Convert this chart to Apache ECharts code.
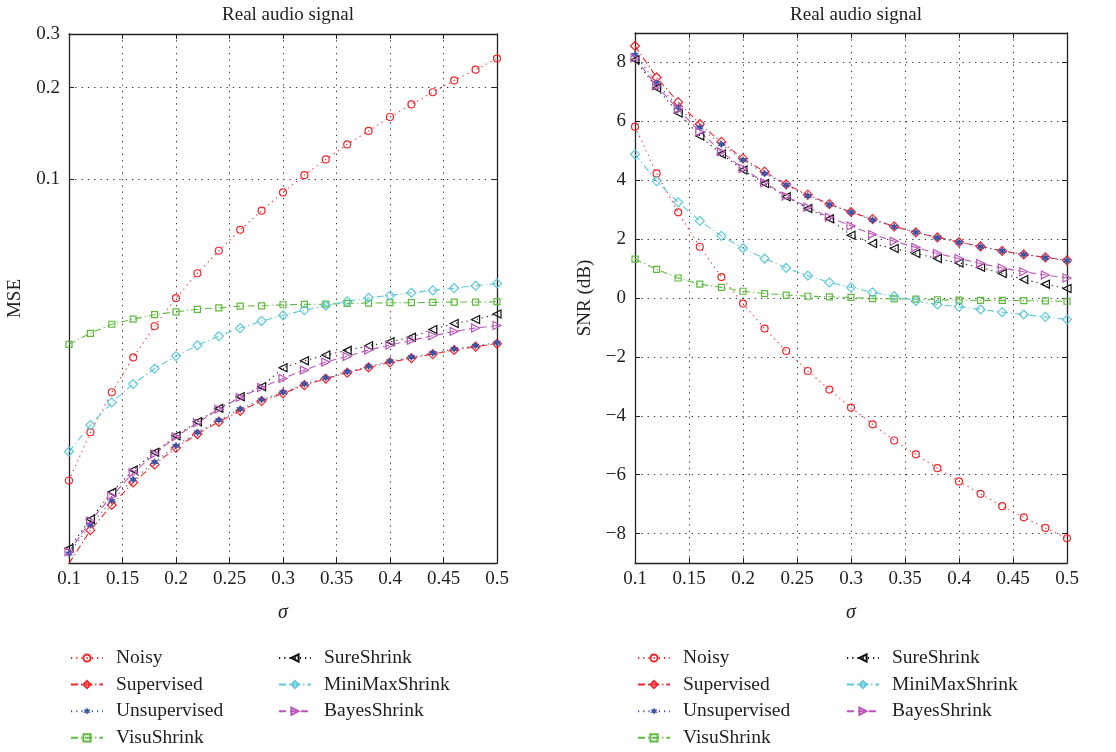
<!DOCTYPE html>
<html lang="en">
<head>
    <meta charset="UTF-8">
    <title>Real audio signal</title>
    <script src="https://cdn.jsdelivr.net/npm/echarts@6/dist/echarts.min.js"></script>
    <style>
        html, body {margin: 0; padding: 0; background: #fff;}
        #main {width: 1116px; height: 752px;}
    </style>
</head>
<body>
<div id="main"></div>
<script>
    // sigma values (x axis)
    var sigma = [0.1, 0.12, 0.14, 0.16, 0.18, 0.2, 0.22, 0.24, 0.26, 0.28, 0.3,
                 0.32, 0.34, 0.36, 0.38, 0.4, 0.42, 0.44, 0.46, 0.48, 0.5];

    // MSE (left panel, log scale)
    var mseNoisy = [0.0102, 0.0147, 0.0199, 0.0259, 0.0328, 0.0406, 0.049, 0.0581, 0.0681, 0.0787, 0.0904,
                    0.103, 0.116, 0.130, 0.144, 0.160, 0.176, 0.193, 0.211, 0.229, 0.249];
    var mseSupervised = [0.00544, 0.0070, 0.00847, 0.01005, 0.01152, 0.01306, 0.0145, 0.01591, 0.01729, 0.01862, 0.01973,
                         0.0210, 0.02205, 0.02306, 0.02402, 0.02495, 0.02577, 0.02657, 0.0274, 0.02809, 0.02873];
    var mseUnsupervised = [0.00587, 0.00728, 0.00875, 0.01028, 0.01173, 0.01327, 0.01468, 0.01611, 0.01751, 0.0188, 0.01988,
                           0.02117, 0.0222, 0.02323, 0.0242, 0.02514, 0.02597, 0.02677, 0.0276, 0.0283, 0.02896];
    var mseVisu = [0.0286, 0.0311, 0.0333, 0.0346, 0.0358, 0.0366, 0.0373, 0.0377, 0.0382, 0.0383, 0.0386,
                   0.0387, 0.0388, 0.0390, 0.0391, 0.0392, 0.0392, 0.0393, 0.0394, 0.0394, 0.0395];
    var mseSure = [0.0061, 0.0076, 0.00934, 0.01104, 0.01262, 0.01431, 0.01591, 0.01761, 0.01923, 0.02074, 0.02394,
                   0.02525, 0.02637, 0.02733, 0.0283, 0.02915, 0.0302, 0.0320, 0.0335, 0.0345, 0.0360];
    var mseMiniMax = [0.0127, 0.01552, 0.01842, 0.02117, 0.02377, 0.02617, 0.02838, 0.03045, 0.03235, 0.03412, 0.0356,
                      0.03707, 0.03831, 0.0396, 0.04071, 0.04144, 0.04227, 0.04303, 0.04379, 0.04457, 0.04537];
    var mseBayes = [0.00594, 0.00751, 0.00906, 0.01081, 0.01246, 0.0142, 0.01579, 0.01751, 0.01914, 0.02064, 0.0221,
                    0.02353, 0.025, 0.0261, 0.0274, 0.02844, 0.02947, 0.03052, 0.03155, 0.03235, 0.033];

    // SNR in dB (right panel)
    var snrNoisy = [5.82, 4.23, 2.91, 1.74, 0.71, -0.19, -1.04, -1.80, -2.48, -3.11, -3.72,
                    -4.29, -4.84, -5.31, -5.78, -6.23, -6.65, -7.07, -7.45, -7.81, -8.16];
    var snrSupervised = [8.56, 7.49, 6.65, 5.91, 5.30, 4.74, 4.29, 3.86, 3.51, 3.19, 2.92,
                         2.68, 2.43, 2.23, 2.06, 1.90, 1.75, 1.60, 1.48, 1.38, 1.28];
    var snrUnsupervised = [8.26, 7.30, 6.48, 5.79, 5.22, 4.69, 4.23, 3.84, 3.47, 3.17, 2.91,
                           2.65, 2.42, 2.23, 2.05, 1.89, 1.74, 1.60, 1.48, 1.37, 1.27];
    var snrVisu = [1.32, 0.97, 0.68, 0.47, 0.36, 0.23, 0.15, 0.10, 0.06, 0.04, 0.02,
                   -0.02, -0.03, -0.04, -0.06, -0.07, -0.08, -0.08, -0.09, -0.10, -0.11];
    var snrSure = [8.09, 7.13, 6.28, 5.50, 4.89, 4.35, 3.89, 3.44, 3.04, 2.69, 2.13,
                   1.85, 1.68, 1.51, 1.34, 1.19, 1.04, 0.83, 0.63, 0.47, 0.32];
    var snrMiniMax = [4.88, 3.97, 3.25, 2.62, 2.11, 1.69, 1.34, 1.02, 0.76, 0.53, 0.36,
                      0.19, 0.06, -0.10, -0.22, -0.30, -0.39, -0.48, -0.56, -0.64, -0.73];
    var snrBayes = [8.15, 7.20, 6.41, 5.65, 4.97, 4.40, 3.92, 3.46, 3.08, 2.74, 2.45,
                    2.16, 1.93, 1.72, 1.51, 1.34, 1.17, 1.02, 0.89, 0.78, 0.68];

    var names = ['Noisy', 'Supervised', 'Unsupervised', 'VisuShrink', 'SureShrink', 'MiniMaxShrink', 'BayesShrink'];
    var mseTicks = [0.1, 0.2, 0.3];
    var snrTicks = [-8, -6, -4, -2, 0, 2, 4, 6, 8];

    var font = 'Liberation Serif';
    var axisColor = '#222';
    var starPath = 'path://M0,-10 L2.6,-4.5 L8.7,-5 L5.2,0 L8.7,5 L2.6,4.5 L0,10 L-2.6,4.5 L-8.7,5 L-5.2,0 L-8.7,-5 L-2.6,-4.5 Z';

    // style per method: colour, dash, symbol, rotate, filled
    var styles = {
        'Noisy':         {c: '#f0262b', dash: [1.2, 4], sym: 'circle', rot: 0, size: 7, fill: false},
        'Supervised':    {c: '#f0262b', dash: [7, 3, 1.2, 3], sym: 'diamond', rot: 0, size: 9, fill: false},
        'Unsupervised':  {c: '#3b55a8', dash: [1.2, 4], sym: starPath, rot: 0, size: 8, fill: true},
        'VisuShrink':    {c: '#5fbb3f', dash: [7, 3, 1.2, 3], sym: 'rect', rot: 0, size: 6, fill: false},
        'SureShrink':    {c: '#111111', dash: [1.2, 4], sym: 'triangle', rot: 90, size: 8, fill: false},
        'MiniMaxShrink': {c: '#5ec8da', dash: [7, 3, 1.2, 3], sym: 'diamond', rot: 0, size: 9, fill: false},
        'BayesShrink':   {c: '#b956b8', dash: [7, 4], sym: 'triangle', rot: -90, size: 8, fill: false}
    };

    var mseData = [mseNoisy, mseSupervised, mseUnsupervised, mseVisu, mseSure, mseMiniMax, mseBayes];
    var snrData = [snrNoisy, snrSupervised, snrUnsupervised, snrVisu, snrSure, snrMiniMax, snrBayes];

    function pairs(ys) {
        var out = [];
        for (var i = 0; i < sigma.length; i++) out.push([sigma[i], ys[i]]);
        return out;
    }

    function makeSeries(name, ys, xi, yi) {
        var s = styles[name];
        return {
            name: name,
            type: 'line',
            xAxisIndex: xi,
            yAxisIndex: yi,
            data: pairs(ys),
            symbol: s.sym,
            symbolSize: s.size,
            symbolRotate: s.rot,
            showAllSymbol: true,
            animation: false,
            lineStyle: {color: s.c, width: 1.1, type: s.dash},
            itemStyle: {
                color: s.fill ? s.c : 'rgba(255,255,255,0)',
                borderColor: s.c,
                borderWidth: s.fill ? 0 : 1.2
            },
            emphasis: {disabled: true},
            z: 3
        };
    }

    var gridLine = {show: true, lineStyle: {color: '#333', width: 1, type: [1.3, 5]}};

    function xAxes(gi) {
        return [{
            type: 'value', gridIndex: gi, min: 0.1, max: 0.5, interval: 0.05,
            name: 'σ', nameLocation: 'middle', nameGap: 40,
            nameTextStyle: {fontFamily: font, fontSize: 20, fontStyle: 'italic', color: '#222'},
            axisLine: {show: true, onZero: false, lineStyle: {color: axisColor, width: 1.3}},
            axisTick: {show: true, inside: true, length: 5, lineStyle: {color: axisColor}},
            axisLabel: {margin: 7, color: '#222', fontFamily: font, fontSize: 19},
            splitLine: gridLine
        }, {
            type: 'value', gridIndex: gi, position: 'top', min: 0.1, max: 0.5, interval: 0.05,
            axisLine: {show: true, onZero: false, lineStyle: {color: axisColor, width: 1.3}},
            axisTick: {show: true, inside: true, length: 5, lineStyle: {color: axisColor}},
            axisLabel: {show: false},
            splitLine: {show: false}
        }];
    }

    var option = {
        animation: false,
        backgroundColor: '#fff',
        title: [{
            text: 'Real audio signal', left: 283, top: 1, textAlign: 'center',
            textStyle: {fontFamily: font, fontSize: 19, fontWeight: 'normal', color: '#222'}
        }, {
            text: 'Real audio signal', left: 851, top: 1, textAlign: 'center',
            textStyle: {fontFamily: font, fontSize: 19, fontWeight: 'normal', color: '#222'}
        }],
        grid: [
            {left: 69, right: 619, top: 34, bottom: 189, containLabel: false},
            {left: 635, right: 49, top: 33, bottom: 189, containLabel: false}
        ],
        xAxis: xAxes(0).concat(xAxes(1)),
        yAxis: [{
            type: 'log', gridIndex: 0, min: 0.00546, max: 0.3,
            name: 'MSE', nameLocation: 'middle', nameGap: 44,
            nameTextStyle: {fontFamily: font, fontSize: 19, color: '#222'},
            axisLine: {show: true, lineStyle: {color: axisColor, width: 1.3}},
            axisTick: {show: true, inside: true, length: 5, customValues: mseTicks, lineStyle: {color: axisColor}},
            axisLabel: {customValues: mseTicks, margin: 9, color: '#222', fontFamily: font, fontSize: 19},
            splitLine: gridLine,
            minorTick: {show: false}
        }, {
            type: 'log', gridIndex: 0, position: 'right', min: 0.00546, max: 0.3,
            axisLine: {show: true, lineStyle: {color: axisColor, width: 1.3}},
            axisTick: {show: true, inside: true, length: 5, customValues: mseTicks, lineStyle: {color: axisColor}},
            axisLabel: {show: false},
            splitLine: {show: false}
        }, {
            type: 'value', gridIndex: 1, min: -9, max: 9,
            name: 'SNR (dB)', nameLocation: 'middle', nameGap: 40,
            nameTextStyle: {fontFamily: font, fontSize: 19, color: '#222'},
            axisLine: {show: true, onZero: false, lineStyle: {color: axisColor, width: 1.3}},
            axisTick: {show: true, inside: true, length: 5, customValues: snrTicks, lineStyle: {color: axisColor}},
            axisLabel: {
                customValues: snrTicks, margin: 9, color: '#222', fontFamily: font, fontSize: 19,
                formatter: function (v) { return String(v).replace('-', '\u2212'); }
            },
            splitLine: gridLine
        }, {
            type: 'value', gridIndex: 1, position: 'right', min: -9, max: 9,
            axisLine: {show: true, onZero: false, lineStyle: {color: axisColor, width: 1.3}},
            axisTick: {show: true, inside: true, length: 5, customValues: snrTicks, lineStyle: {color: axisColor}},
            axisLabel: {show: false},
            splitLine: {show: false}
        }],
        legend: [],
        series: []
    };

    // legends: two columns under each panel
    var legendCols = [
        {left: 70, names: names.slice(0, 4)},
        {left: 278, names: names.slice(4)},
        {left: 637, names: names.slice(0, 4)},
        {left: 846, names: names.slice(4)}
    ];
    legendCols.forEach(function (col) {
        option.legend.push({
            orient: 'vertical', left: col.left, top: 648, height: 110,
            padding: 0,
            data: col.names,
            itemWidth: 32, itemHeight: 9, itemGap: 6.6,
            selectedMode: false,
            textStyle: {fontFamily: font, fontSize: 19.5, lineHeight: 18, color: '#222', padding: [0, 0, 0, 8]}
        });
    });

    for (var i = 0; i < names.length; i++) {
        option.series.push(makeSeries(names[i], mseData[i], 0, 0));
    }
    for (var j = 0; j < names.length; j++) {
        option.series.push(makeSeries(names[j], snrData[j], 2, 2));
    }

    var myChart = echarts.init(document.getElementById('main'), null, {renderer: 'canvas'});
    myChart.setOption(option);
</script>
</body>
</html>
